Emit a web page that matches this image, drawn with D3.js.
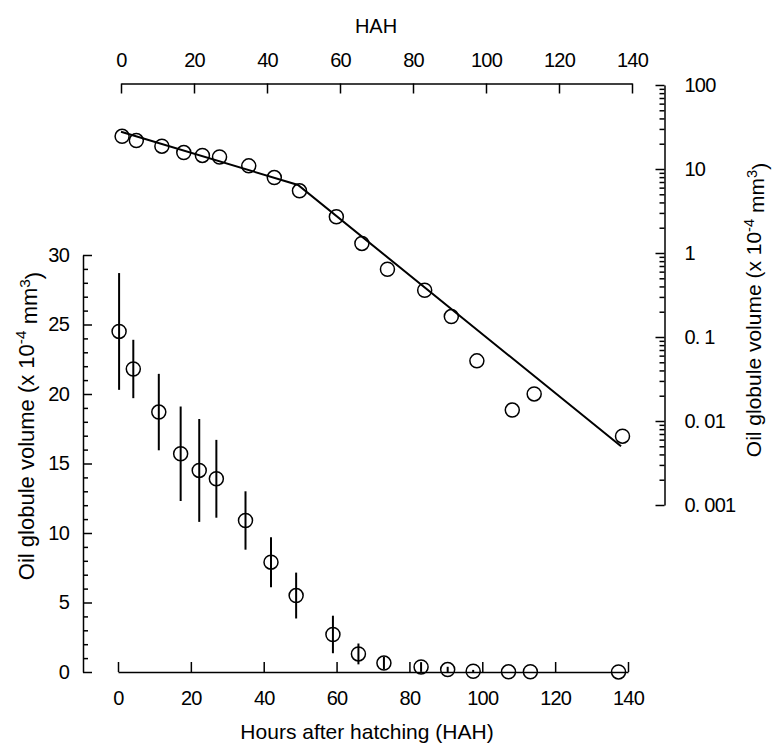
<!DOCTYPE html>
<html>
<head>
<meta charset="utf-8">
<script src="https://cdn.jsdelivr.net/npm/d3@7"></script>
<style>
  body { margin: 0; background: #fff; }
  svg text { font-family: "Liberation Sans", Arial, sans-serif; fill: #000; }
  .axis text { letter-spacing: -0.8px; }
  .axis path, .axis line { stroke: #000; stroke-width: 1.5; }
</style>
</head>
<body>
<div id="chart"></div>
<script>
// Oil globule volume vs hours after hatching
const hours = [0.3, 4.2, 11.2, 17.2, 22.3, 27, 35, 42, 48.9, 59, 66, 73, 83.2, 90.5, 97.5, 107.2, 113.2, 137.4];
const meanVolume = [24.5, 21.8, 18.7, 15.7, 14.5, 13.9, 10.9, 7.9, 5.5, 2.7, 1.3, 0.64, 0.36, 0.175, 0.052, 0.0135, 0.021, 0.0066];
const sdVolume = [4.2, 2.1, 2.75, 3.4, 3.7, 2.8, 2.1, 1.8, 1.65, 1.35, 0.75, 0.45, 0.35, 0.2, 0.1, 0, 0, 0];

// two-phase fit on the log panel
const fitHours = [0, 48.5, 137];
const fitVolume = [27.8, 6.46, 0.005];

const hahTicks = [0, 20, 40, 60, 80, 100, 120, 140];
const linTicks = [0, 5, 10, 15, 20, 25, 30];
const logTicks = [0.001, 0.01, 0.1, 1, 10, 100];
const logTickLabels = ["0. 001", "0. 01", "0. 1", "1", "10", "100"];

const W = 773, H = 744;

const svg = d3.select("#chart")
    .append("svg")
    .attr("width", W)
    .attr("height", H);

// scales
const xBottom = d3.scaleLinear().domain([0, 140]).range([118, 628]);
const xTop = d3.scaleLinear().domain([0, 140]).range([121, 632]);
const yLin = d3.scaleLinear().domain([0, 30]).range([672, 255]);
const yLog = d3.scaleLog().domain([0.001, 100]).range([505, 85]);

const leftX = 83, bottomY = 672, topY = 83.5, rightX = 664.5;

// bottom axis
svg.append("g")
    .attr("class", "axis")
    .attr("transform", `translate(0,${bottomY})`)
    .call(d3.axisBottom(xBottom).tickValues(hahTicks).tickSizeInner(-10).tickSizeOuter(0).tickPadding(26))
    .call(g => g.selectAll("text").attr("font-size", 20).attr("dy", "0.35em"));

// top axis
svg.append("g")
    .attr("class", "axis")
    .attr("transform", `translate(0,${topY})`)
    .call(d3.axisTop(xTop).tickValues(hahTicks).tickSizeInner(-10).tickSizeOuter(0).tickPadding(17))
    .call(g => g.selectAll("text").attr("font-size", 20));

// left linear axis
svg.append("g")
    .attr("class", "axis")
    .attr("transform", `translate(${leftX},0)`)
    .call(d3.axisLeft(yLin).tickValues(linTicks).tickSizeInner(-9).tickSizeOuter(0).tickPadding(14))
    .call(g => g.selectAll("text").attr("font-size", 20));

svg.append("g")
    .attr("class", "axis")
    .attr("transform", `translate(${leftX},0)`)
    .call(d3.axisLeft(yLin).tickValues(d3.range(0, 31).filter(v => v % 5 !== 0)).tickSize(-5).tickFormat(""))
    .call(g => g.select(".domain").remove());

// right log axis
const logMinor = [];
logTicks.slice(0, -1).forEach(d => { for (let k = 2; k <= 9; k++) logMinor.push(d * k); });

svg.append("g")
    .attr("class", "axis")
    .attr("transform", `translate(${rightX},0)`)
    .call(d3.axisRight(yLog).tickValues(logTicks).tickSizeInner(-9).tickSizeOuter(0).tickPadding(20)
        .tickFormat((d, i) => logTickLabels[i]))
    .call(g => g.selectAll("text").attr("font-size", 20));

svg.append("g")
    .attr("class", "axis")
    .attr("transform", `translate(${rightX},0)`)
    .call(d3.axisRight(yLog).tickValues(logMinor).tickSize(-5).tickFormat(""))
    .call(g => g.select(".domain").remove());

// axis titles
svg.append("text")
    .attr("x", 376).attr("y", 33)
    .attr("text-anchor", "middle")
    .attr("font-size", 20)
    .text("HAH");

svg.append("text")
    .attr("x", 367).attr("y", 739)
    .attr("text-anchor", "middle")
    .attr("font-size", 21)
    .text("Hours after hatching (HAH)");

function volumeLabel(sel) {
    sel.append("tspan").text("Oil globule volume (x 10");
    sel.append("tspan").attr("dy", "-0.5em").attr("font-size", "0.7em").text("-4");
    sel.append("tspan").attr("dy", "0.5em").text(" mm");
    sel.append("tspan").attr("dy", "-0.5em").attr("font-size", "0.7em").text("3");
    sel.append("tspan").attr("dy", "0.5em").text(")");
}

svg.append("text")
    .attr("transform", "translate(34,426) rotate(-90)")
    .attr("text-anchor", "middle")
    .attr("font-size", 22)
    .call(volumeLabel);

svg.append("text")
    .attr("transform", "translate(761,310) rotate(-90)")
    .attr("text-anchor", "middle")
    .attr("font-size", 21)
    .call(volumeLabel);

const pts = hours.map((h, i) => ({ h, v: meanVolume[i], sd: sdVolume[i] }));

// linear panel: error bars + circles
svg.append("g")
    .selectAll("line")
    .data(pts.filter(d => d.sd > 0))
    .join("line")
    .attr("x1", d => xBottom(d.h)).attr("x2", d => xBottom(d.h))
    .attr("y1", d => yLin(Math.max(0, d.v - d.sd)))
    .attr("y2", d => yLin(d.v + d.sd))
    .attr("stroke", "#000")
    .attr("stroke-width", 2);

svg.append("g")
    .selectAll("circle")
    .data(pts)
    .join("circle")
    .attr("cx", d => xBottom(d.h))
    .attr("cy", d => yLin(d.v))
    .attr("r", 7)
    .attr("fill", "none")
    .attr("stroke", "#000")
    .attr("stroke-width", 1.5);

// log panel: fit line + circles
const fit = fitHours.map((h, i) => [h, fitVolume[i]]);
svg.append("path")
    .datum(fit)
    .attr("fill", "none")
    .attr("stroke", "#000")
    .attr("stroke-width", 2)
    .attr("d", d3.line().x(d => xTop(d[0])).y(d => yLog(d[1])));

svg.append("g")
    .selectAll("circle")
    .data(pts)
    .join("circle")
    .attr("cx", d => xTop(d.h))
    .attr("cy", d => yLog(d.v))
    .attr("r", 7)
    .attr("fill", "none")
    .attr("stroke", "#000")
    .attr("stroke-width", 1.5);
</script>
</body>
</html>
